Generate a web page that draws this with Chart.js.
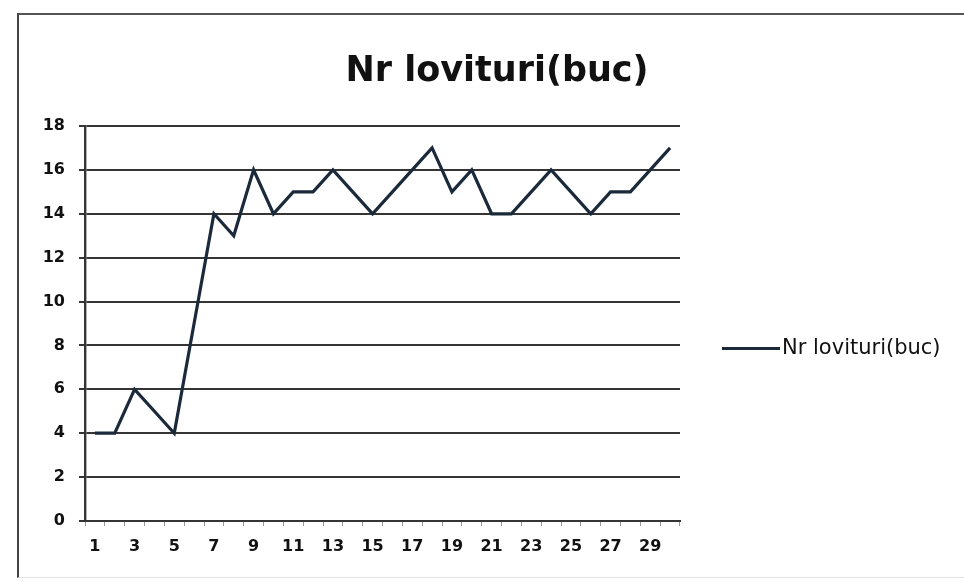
<!DOCTYPE html>
<html>
<head>
<meta charset="utf-8">
<script src="https://cdn.jsdelivr.net/npm/chart.js@4/dist/chart.umd.min.js"></script>
<style>
  html, body { margin: 0; padding: 0; background: #ffffff; overflow: hidden; }
  #wrap { position: relative; width: 964px; height: 582px; }
  #frame {
    position: absolute; left: 17px; top: 13px; width: 947px; height: 565px;
    border-top: 2px solid #555; border-left: 2px solid #444; border-bottom: 1px solid #e2e2e2;
    pointer-events: none; box-sizing: border-box;
  }
</style>
</head>
<body>
<div id="wrap">
  <canvas id="chart" width="964" height="582"></canvas>
  <div id="frame"></div>
</div>
<script>
// Shot count per session
const categories = ['1','2','3','4','5','6','7','8','9','10','11','12','13','14','15',
                    '16','17','18','19','20','21','22','23','24','25','26','27','28','29','30'];
const lovituri = [4, 4, 6, 5, 4, 9, 14, 13, 16, 14, 15, 15, 16, 15, 14,
                  15, 16, 17, 15, 16, 14, 14, 15, 16, 15, 14, 15, 15, 16, 17];
const seriesName = 'Nr lovituri(buc)';
const chartTitle = 'Nr lovituri(buc)';
const yMin = 0, yMax = 18, yStep = 2;

const lineColor = '#1b2a3a';
const gridColor = '#353535';
const fontFamily = '"DejaVu Sans", "Liberation Sans", sans-serif';

// Series key drawn in the blank band to the right of the plot
const sideLegend = {
  id: 'sideLegend',
  afterDraw(chart) {
    const { ctx, chartArea } = chart;
    const ds = chart.data.datasets[0];
    const x0 = chartArea.right + 42;
    const y = (chartArea.top + chartArea.bottom) / 2 + 25;
    ctx.save();
    ctx.strokeStyle = ds.borderColor;
    ctx.lineWidth = 3.2;
    ctx.beginPath();
    ctx.moveTo(x0, y);
    ctx.lineTo(x0 + 58, y);
    ctx.stroke();
    ctx.fillStyle = '#111';
    ctx.font = '21px ' + fontFamily;
    ctx.textBaseline = 'middle';
    ctx.textAlign = 'left';
    ctx.fillText(ds.label, x0 + 60, y);
    ctx.restore();
  }
};

new Chart(document.getElementById('chart'), {
  type: 'line',
  data: {
    labels: categories,
    datasets: [{
      label: seriesName,
      data: lovituri,
      borderColor: lineColor,
      backgroundColor: lineColor,
      borderWidth: 3.2,
      pointRadius: 0,
      tension: 0
    }]
  },
  plugins: [sideLegend],
  options: {
    responsive: false,
    animation: false,
    layout: { padding: { left: 30, right: 0, top: 0, bottom: 16 } },
    plugins: {
      title: {
        display: true,
        text: chartTitle,
        color: '#111',
        font: { family: fontFamily, size: 35, weight: 'bold' },
        padding: { top: 51, bottom: 33 }
      },
      legend: { display: false },
      tooltip: { enabled: false }
    },
    scales: {
      x: {
        offset: true,
        afterFit: s => { s.height = 45; },
        grid: { drawOnChartArea: false, drawTicks: true, tickLength: 5, color: '#9a9a9a', offset: true },
        border: { display: true, color: gridColor, width: 2 },
        ticks: {
          autoSkip: false,
          maxRotation: 0,
          padding: 11,
          color: '#111',
          font: { family: fontFamily, size: 16, weight: 'bold' },
          callback: (v, i) => (i % 2 === 0 ? categories[i] : '')
        }
      },
      y: {
        min: yMin,
        max: yMax,
        afterFit: s => { s.width = 55; },
        grid: { color: gridColor, lineWidth: 2, tickLength: 6 },
        border: { display: true, color: gridColor, width: 2.4 },
        ticks: {
          stepSize: yStep,
          padding: 14,
          color: '#111',
          font: { family: fontFamily, size: 16, weight: 'bold' }
        }
      },
      // empty band on the right that holds the series key
      keyBand: {
        position: 'right',
        display: true,
        afterFit: s => { s.width = 284; },
        grid: { display: false, drawTicks: false },
        border: { display: false },
        ticks: { display: false }
      }
    }
  }
});
</script>
</body>
</html>
